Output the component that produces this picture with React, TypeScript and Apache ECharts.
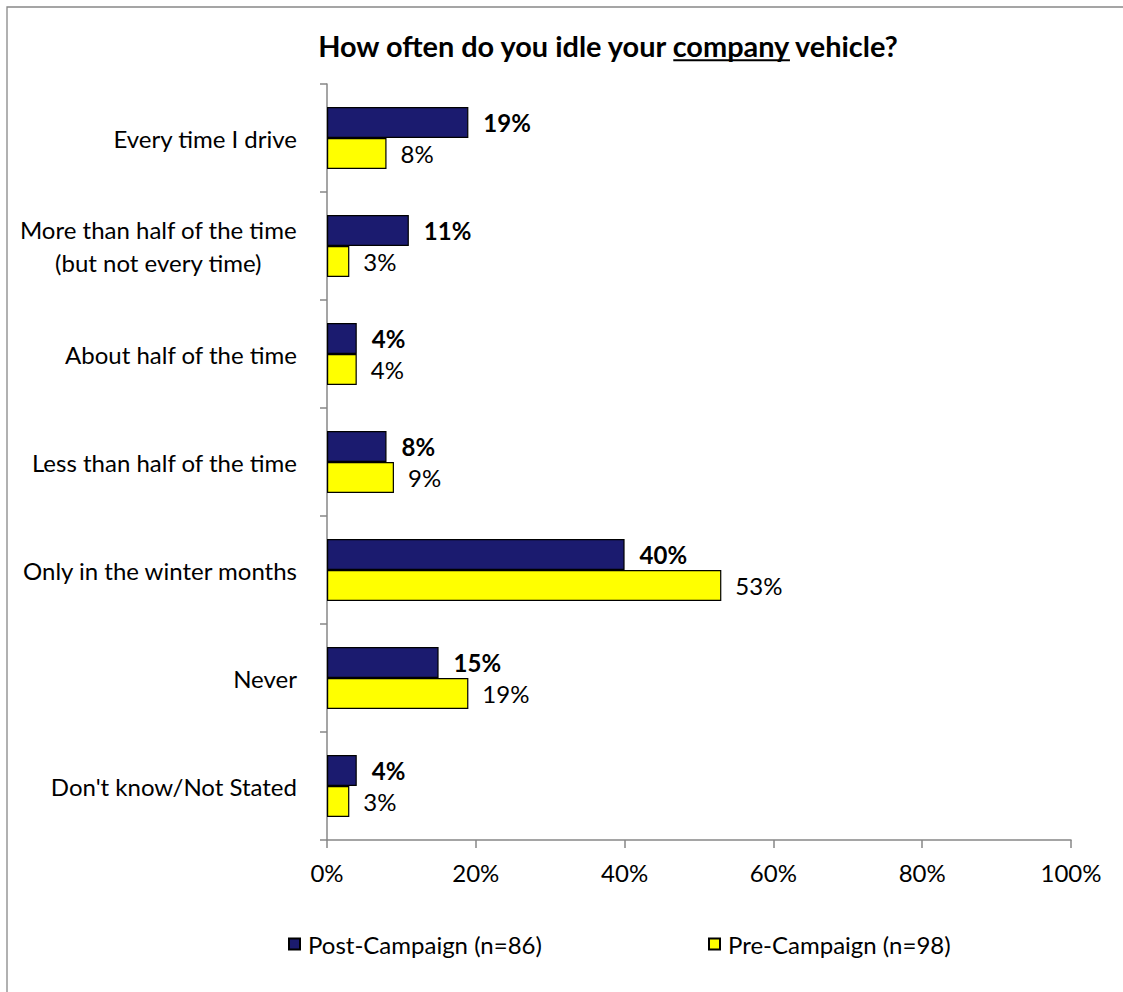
import React, { useEffect, useRef } from "react";
import * as echarts from "echarts";

const titleText = "How often do you idle your company vehicle?";
const titlePrefix = "How often do you idle your ";
const titleUnderlined = "company";

const categories = [
  "Every time I drive",
  "More than half of the time\n(but not every time)",
  "About half of the time",
  "Less than half of the time",
  "Only in the winter months",
  "Never",
  "Don't know/Not Stated",
];

const postName = "Post-Campaign (n=86)";
const preName = "Pre-Campaign (n=98)";
const postValues = [19, 11, 4, 8, 40, 15, 4];
const preValues = [8, 3, 4, 9, 53, 19, 3];

const xMin = 0;
const xMax = 100;
const xInterval = 20;

const FONT = "Lato";

export default function App() {
  const ref = useRef<HTMLDivElement>(null);

  useEffect(() => {
    if (!ref.current) return;
    const canvas = document.createElement("canvas");
    const ctx = canvas.getContext("2d")!;
    const measure = (t: string, font: string) => {
      ctx.font = font;
      return ctx.measureText(t).width;
    };
    const base = Math.round((100 * 277) / measure("More than half of the time", `100px ${FONT}`) * 10) / 10;
    const titleSize = Math.round((100 * 585) / measure(titleText, `bold 100px ${FONT}`) * 10) / 10;
    const titleFont = `bold ${titleSize}px ${FONT}`;
    const titleW = measure(titleText, titleFont);
    const titleCx = 608;
    const titleLeft = titleCx - titleW / 2;
    const ulX1 = titleLeft + measure(titlePrefix, titleFont);
    const ulX2 = ulX1 + measure(titleUnderlined, titleFont);
    const titleY = 45;
    const ulY = titleY + titleSize * 0.387 + 4;

    const chart = echarts.init(ref.current, null, { renderer: "svg" });
    const textBase = { fontFamily: FONT, fontSize: base, color: "#000" };

    chart.setOption({
      animation: false,
      backgroundColor: "#fff",
      grid: { left: 327, right: 52, top: 84, bottom: 152, containLabel: false },
      xAxis: {
        type: "value",
        min: xMin,
        max: xMax,
        interval: xInterval,
        splitLine: { show: false },
        axisLine: { show: true, lineStyle: { color: "#878787", width: 1.5 } },
        axisTick: { show: true, length: 8, lineStyle: { color: "#878787", width: 1.5 } },
        axisLabel: { ...textBase, margin: 20, formatter: "{value}%" },
      },
      yAxis: {
        type: "category",
        data: categories,
        inverse: true,
        axisLine: { show: true, lineStyle: { color: "#878787", width: 1.5 } },
        axisTick: { show: true, length: 7, lineStyle: { color: "#878787", width: 1.5 } },
        axisLabel: {
          ...textBase,
          margin: 30,
          align: "right",
          lineHeight: base * 1.35,
          formatter: (v: string) =>
            v.indexOf("\n") >= 0
              ? v.split("\n").map((l) => `{c|${l}}`).join("\n")
              : v,
          rich: {
            c: { ...textBase, align: "center", lineHeight: base * 1.35 },
          },
        },
      },
      legend: [
        {
          left: 283,
          top: 927,
          data: [postName],
          icon: "rect",
          itemWidth: 11,
          itemHeight: 11,
          textStyle: { ...textBase, padding: [0, 0, 0, 3] },
        },
        {
          left: 703,
          top: 927,
          data: [preName],
          icon: "rect",
          itemWidth: 11,
          itemHeight: 11,
          textStyle: { ...textBase, padding: [0, 0, 0, 3] },
        },
      ],
      series: [
        {
          name: postName,
          type: "bar",
          data: postValues,
          barWidth: 31,
          barGap: "0%",
          itemStyle: { color: "#1B1B6F", borderColor: "#000", borderWidth: 1.2 },
          label: {
            show: true,
            position: "right",
            distance: 15,
            formatter: "{c}%",
            ...textBase,
            fontWeight: "bold",
          },
        },
        {
          name: preName,
          type: "bar",
          data: preValues,
          barWidth: 31,
          barGap: "0%",
          itemStyle: { color: "#FFFF00", borderColor: "#000", borderWidth: 1.2 },
          label: {
            show: true,
            position: "right",
            distance: 14,
            formatter: "{c}%",
            ...textBase,
          },
        },
      ],
      graphic: [
        {
          type: "rect",
          silent: true,
          shape: { x: 7, y: 7, width: 1300, height: 1200 },
          style: { fill: "none", stroke: "#888", lineWidth: 1.3 },
        },
        {
          type: "text",
          x: titleCx,
          y: titleY,
          style: {
            text: titleText,
            font: titleFont,
            fill: "#000",
            textAlign: "center",
            textVerticalAlign: "middle",
          },
        },
        {
          type: "line",
          shape: { x1: ulX1, y1: ulY, x2: ulX2, y2: ulY },
          style: { stroke: "#000", lineWidth: 2 },
        },
      ],
    });

    return () => chart.dispose();
  }, []);

  return (
    <div
      ref={ref}
      style={{ position: "absolute", left: 0, top: 0, width: 1123, height: 992 }}
    />
  );
}
